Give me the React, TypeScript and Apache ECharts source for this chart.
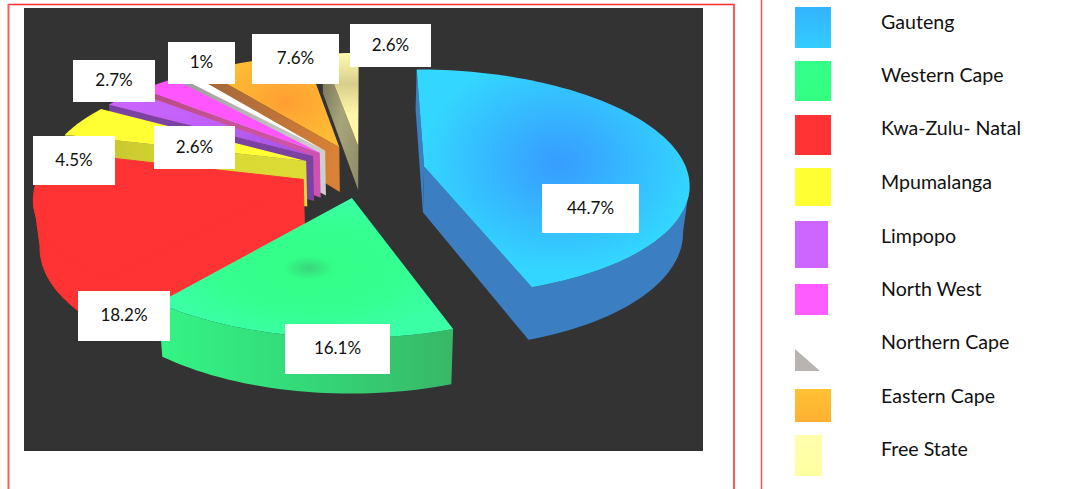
import React, { useEffect, useRef } from "react";
import * as echarts from "echarts";

// Provinces and their share of the total, in percent.
const provinces = ["Gauteng", "Western Cape", "Kwa-Zulu- Natal", "Mpumalanga", "Limpopo", "North West", "Northern Cape", "Eastern Cape", "Free State"];
const shares = [44.7, 16.1, 18.2, 4.5, 2.6, 2.7, 1, 7.6, 2.6];

// Exploded pie drawn under a perspective camera.
const CENTER_X = 363;
const CENTER_Y = 171;
const RADIUS_X = 263;
const RADIUS_Y = 112;
const DEPTH = 0.14;
const EXPLODE = 0.237;
const THICKNESS = 46;
const BASE_SHRINK = 0.98;

type Pt = [number, number];

const project = (px: number, py: number): Pt => {
  const w = 1 - DEPTH * py;
  return [CENTER_X + (RADIUS_X * px) / w, CENTER_Y + (RADIUS_Y * py) / w];
};

// Point straight below a top-face point, on the underside of the slice.
const drop = (px: number, py: number): Pt => {
  const w = 1 - DEPTH * py;
  const [x, y] = project(px, py);
  return [CENTER_X + (x - CENTER_X) * BASE_SHRINK, y + THICKNESS / w];
};

const linear = (x: number, y: number, x2: number, y2: number, stops: string[]) => ({
  type: "linear",
  x,
  y,
  x2,
  y2,
  colorStops: stops.map((color, i) => ({ offset: i / (stops.length - 1), color })),
});

const radial = (x: number, y: number, stops: [number, string][]) => ({
  type: "radial",
  x,
  y,
  r: 0.5,
  colorStops: stops.map(([offset, color]) => ({ offset, color })),
});

const topFill: any[] = [
  radial(0.52, 0.43, [[0, "#379DFF"], [0.3, "#36ACFF"], [1, "#33D6FF"]]),
  radial(0.51, 0.5, [[0, "#38D67C"], [0.17, "#33FF88"], [0.6, "#35FF90"], [1, "#3AFFA4"]]),
  "#FF3333",
  "#FFFF33",
  linear(0, 0, 1, 1, ["#CC66FF", "#C060F8", "#A052E0"]),
  "#FF55FF",
  "#FFFFFF",
  radial(0.6, 0.5, [[0, "#FF9E33"], [0.5, "#FFAE33"], [1, "#FFBB33"]]),
  linear(0, 0, 0, 1, ["#FFFBB0", "#D8CE8C", "#FFF8A8", "#FFF8A8"]),
];

const sideFill: any[] = [
  "#3B7FC2",
  linear(0, 0, 1, 0, ["#33F585", "#34D878", "#38B868"]),
  "#FF3333",
  linear(0, 0, 1, 0, ["#BDBD2C", "#D9D832", "#DCDC36"]),
  "#7B42A2",
  linear(0, 0, 1, 0, ["#B84C80", "#C85498", "#CF52B4"]),
  linear(0, 0, 1, 0, ["#9A9A9A", "#B8B8B8", "#CFCFCF"]),
  linear(0, 0, 1, 0, ["#A3673A", "#BC7238", "#DB8236"]),
  linear(0, 0, 1, 1, ["#6F6C50", "#A8A47A", "#8E8A66"]),
];

// The red slice is flat-coloured, so its wall and top need no visible seam.
const seamStroke = [null, null, "#FF3333", null, null, null, null, null, null];

// Painter's order: the farthest slice first.
const drawOrder = [8, 7, 6, 5, 4, 3, 2, 1, 0];

const total = shares.reduce((a, b) => a + b, 0);
const cumulative = shares.map((_, i) => shares.slice(0, i).reduce((a, b) => a + b, 0));
const sliceRows = drawOrder.map((i) => [i, cumulative[i], cumulative[i] + shares[i]]);

const renderSlice = (_params: any, api: any) => {
  const index = api.value(0);
  const from = (api.value(1) / total) * Math.PI * 2;
  const to = (api.value(2) / total) * Math.PI * 2;
  const mid = (from + to) / 2;
  const ox = EXPLODE * Math.sin(mid);
  const oy = -EXPLODE * Math.cos(mid);

  const ring: Pt[] = [[ox, oy]];
  const steps = Math.max(6, Math.ceil((to - from) / 0.03));
  for (let s = 0; s <= steps; s++) {
    const a = from + ((to - from) * s) / steps;
    ring.push([ox + Math.sin(a), oy - Math.cos(a)]);
  }
  const closed = [...ring, ring[0]];
  const seam = seamStroke[index];
  const edge = seam ? { stroke: seam, lineWidth: 1 } : { stroke: null };

  // Walls are visible along the runs of the outline that travel right to left.
  const children: any[] = [];
  let run: Pt[] = [];
  const flush = () => {
    if (run.length > 1) {
      const upper = run.map((p) => project(p[0], p[1]));
      const lower = run.map((p) => drop(p[0], p[1])).reverse();
      children.push({
        type: "polygon",
        shape: { points: [...upper, ...lower] },
        style: { fill: sideFill[index], ...edge },
      });
    }
    run = [];
  };
  for (let e = 0; e < closed.length - 1; e++) {
    const a = project(closed[e][0], closed[e][1]);
    const b = project(closed[e + 1][0], closed[e + 1][1]);
    if (b[0] < a[0]) {
      if (!run.length) run.push(closed[e]);
      run.push(closed[e + 1]);
    } else {
      flush();
    }
  }
  flush();

  children.push({
    type: "polygon",
    shape: { points: ring.map((p) => project(p[0], p[1])) },
    style: { fill: topFill[index], ...edge },
  });
  return { type: "group", children };
};

// Value tags, in the same order as the provinces.
const tagBoxes = [
  [542, 184, 97, 49],
  [285, 324, 105, 50],
  [78, 291, 92, 50],
  [33, 136, 82, 49],
  [154, 126, 81, 43],
  [73, 60, 82, 42],
  [168, 42, 67, 42],
  [252, 34, 87, 50],
  [350, 24, 81, 43],
];

// Legend swatches, in the same order as the provinces.
const swatchBoxes = [
  [795, 7, 36, 41],
  [795, 61, 36, 40],
  [795, 115, 36, 40],
  [795, 168, 36, 38],
  [795, 221, 33, 47],
  [795, 284, 33, 31],
  [795, 349, 25, 22],
  [795, 389, 36, 33],
  [795, 435, 27, 41],
];
const swatchFill: any[] = [
  linear(0, 0, 0, 1, ["#33B4FF", "#33CCFF"]),
  linear(0, 0, 1, 1, ["#33FF90", "#33FF7C"]),
  "#FF3333",
  "#FFFF33",
  "#CC66FF",
  "#FF5CFF",
  "#FFFFFF",
  linear(0, 0, 0, 1, ["#FFC233", "#FFB033"]),
  linear(0, 0, 0, 1, ["#FFFFAE", "#FFFFA0"]),
];
const legendTextY = [21.5, 74.5, 127.5, 181.5, 235.5, 288.5, 341.5, 395.5, 448.5];

const FONT = "Lato, Carlito, sans-serif";

export default function App() {
  const ref = useRef<HTMLDivElement>(null);

  useEffect(() => {
    if (!ref.current) return;
    const chart = echarts.init(ref.current, null, { renderer: "svg" });

    const frame = [
      { type: "line", shape: { x1: 8, y1: 4.5, x2: 734.5, y2: 4.5 }, style: { stroke: "#FF2A2A", lineWidth: 1.5 } },
      { type: "line", shape: { x1: 8.5, y1: 4, x2: 8.5, y2: 489 }, style: { stroke: "#FF5A5A", lineWidth: 2 } },
      { type: "line", shape: { x1: 734, y1: 4, x2: 734, y2: 489 }, style: { stroke: "#FF5A5A", lineWidth: 2 } },
      { type: "line", shape: { x1: 761.5, y1: 0, x2: 761.5, y2: 489 }, style: { stroke: "#FF5050", lineWidth: 1.5 } },
      { type: "rect", shape: { x: 24, y: 8, width: 679, height: 443 }, style: { fill: "#333333" } },
    ].map((el) => ({ ...el, z: 0 }));

    const tags = tagBoxes.flatMap(([x, y, width, height], i) => [
      { type: "rect", z: 10, shape: { x, y, width, height }, style: { fill: "#FFFFFF" } },
      {
        type: "text",
        z: 11,
        x: x + width / 2,
        y: y + height / 2 - 1.5,
        style: { text: `${shares[i]}%`, fill: "#111111", font: `17px ${FONT}`, textAlign: "center", textVerticalAlign: "middle" },
      },
    ]);

    const legend = provinces.flatMap((name, i) => {
      const [x, y, width, height] = swatchBoxes[i];
      return [
        { type: "rect", z: 10, shape: { x, y, width, height }, style: { fill: swatchFill[i] } },
        {
          type: "text",
          z: 11,
          x: 881,
          y: legendTextY[i],
          style: { text: name, fill: "#111111", font: `19.6px ${FONT}`, textAlign: "left", textVerticalAlign: "middle" },
        },
      ];
    });

    // The Northern Cape swatch keeps only a small grey corner.
    const [nx, ny, nw, nh] = swatchBoxes[6];
    const corner = {
      type: "polygon",
      z: 10,
      shape: { points: [[nx, ny], [nx, ny + nh], [nx + nw, ny + nh]] },
      style: { fill: "#B8B4B0" },
    };

    chart.setOption({
      animation: false,
      backgroundColor: "#FFFFFF",
      graphic: { elements: [...frame, ...tags, ...legend, corner] },
      series: [
        {
          type: "custom",
          coordinateSystem: "none",
          silent: true,
          clip: false,
          renderItem: renderSlice,
          data: sliceRows,
        },
      ],
    });

    return () => chart.dispose();
  }, []);

  return <div ref={ref} style={{ position: "fixed", left: 0, top: 0, width: 1086, height: 489 }} />;
}
